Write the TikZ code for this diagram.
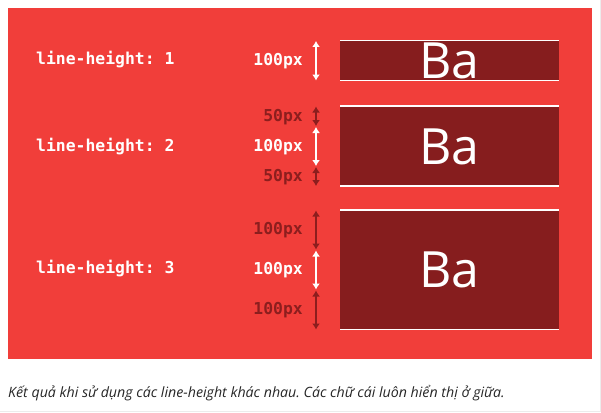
\documentclass[tikz,border=0pt]{standalone}
\usepackage{fontspec}
\setmainfont{Open Sans}
\newfontfamily\monofnt{DejaVu Sans Mono}
\usetikzlibrary{arrows.meta}
\frenchspacing
\definecolor{bgred}{RGB}{241,62,58}
\definecolor{boxdark}{RGB}{134,29,30}
\definecolor{lbldark}{RGB}{140,30,30}
\tikzset{
  lhlabel/.style={anchor=west, text=white, font=\monofnt\bfseries\fontsize{16.4}{17}\selectfont, inner sep=0pt},
  pxlabel/.style={anchor=east, font=\monofnt\bfseries\fontsize{16.4}{17}\selectfont, inner sep=0pt},
  dimarrow/.style={line width=2pt, {Latex[length=6pt,width=8pt]}-{Latex[length=6pt,width=8pt]}, shorten >=0.5pt, shorten <=0.5pt},
  babox/.style={fill=boxdark, draw=none},
  edge/.style={white, line width=1.4pt},
  batext/.style={text=white, font=\fontsize{50}{50}\selectfont, inner sep=0pt}
}
\begin{document}
\begin{tikzpicture}[x=1pt,y=-1pt]
\useasboundingbox (0,0) rectangle (601,412);
\fill[white] (0,0) rectangle (601,412);
\draw[gray!15, line width=0.8pt] (600.5,0) -- (600.5,411.5) -- (0,411.5);
\fill[bgred] (8,8) rectangle (592,359);

% left labels
\node[lhlabel] (lh1) at (36,60) {line-height: 1};
\node[lhlabel] (lh2) at (36,147) {line-height: 2};
\node[lhlabel] (lh3) at (36,269) {line-height: 3};

% boxes
\fill[babox] (340,40.5) rectangle (559,80.5);
\draw[edge] (340,40.5) -- (559,40.5);
\draw[edge] (340,80.5) -- (559,80.5);
\node[batext] (ba1) at (449.5,61) {Ba};

\fill[babox] (340,106) rectangle (559,186);
\draw[edge] (340,106) -- (559,106);
\draw[edge] (340,186) -- (559,186);
\node[batext] (ba2) at (449.5,147) {Ba};

\fill[babox] (340,210) rectangle (559,329.5);
\draw[edge] (340,210) -- (559,210);
\draw[edge] (340,329.5) -- (559,329.5);
\node[batext] (ba3) at (449.5,270) {Ba};

% arrow coordinates
\coordinate (a1t) at (316,40.5);
\coordinate (a1b) at (316,81);
\coordinate (a2a) at (316,106);
\coordinate (a2b) at (316,126.5);
\coordinate (a2c) at (316,166.5);
\coordinate (a2d) at (316,186.5);
\coordinate (a3a) at (316,210);
\coordinate (a3b) at (316,250);
\coordinate (a3c) at (316,290);
\coordinate (a3d) at (316,330);

\draw[dimarrow, white] (a1t) -- (a1b);
\draw[dimarrow, lbldark] (a2a) -- (a2b);
\draw[dimarrow, white] (a2b) -- (a2c);
\draw[dimarrow, lbldark] (a2c) -- (a2d);
\draw[dimarrow, lbldark] (a3a) -- (a3b);
\draw[dimarrow, white] (a3b) -- (a3c);
\draw[dimarrow, lbldark] (a3c) -- (a3d);

% px labels
\node[pxlabel, text=white] (p1) at (303,61) {100px};
\node[pxlabel, text=lbldark] (p2a) at (303,117) {50px};
\node[pxlabel, text=white] (p2b) at (303,147) {100px};
\node[pxlabel, text=lbldark] (p2c) at (303,177) {50px};
\node[pxlabel, text=lbldark] (p3a) at (303,230) {100px};
\node[pxlabel, text=white] (p3b) at (303,270) {100px};
\node[pxlabel, text=lbldark] (p3c) at (303,310) {100px};

% caption
\node[anchor=base west, inner sep=0pt, text=black!85, font=\itshape\fontsize{14.2}{16}\selectfont] (cap) at (8,397) {Kết quả khi sử dụng các line-height khác nhau. Các chữ cái luôn hiển thị ở giữa.};
\end{tikzpicture}
\end{document}
